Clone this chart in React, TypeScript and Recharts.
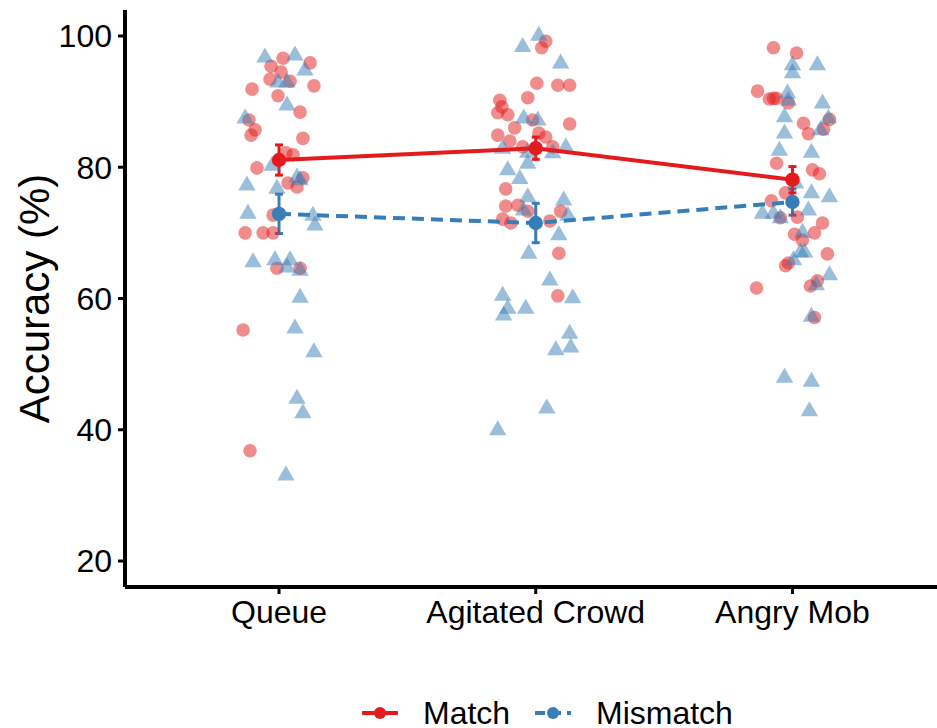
import React from 'react';
import { ScatterChart, Scatter, XAxis, YAxis, ErrorBar } from 'recharts';

const categories = ['Queue', 'Agitated Crowd', 'Angry Mob'];
const yTicks = [20, 40, 60, 80, 100];
const conditions = ['Match', 'Mismatch'];

const matchMeans = [81.1, 82.9, 78.1];
const matchErrors = [2.3, 1.7, 2.0];
const mismatchMeans = [72.9, 71.5, 74.7];
const mismatchErrors = [3.0, 3.0, 2.0];

// Individual participant accuracies (jitter offsets in category units)
const queueMatchValues = [96.6, 95.9, 95.4, 94.5, 93.4, 93.1, 91.9, 92.4, 90.9, 88.4, 87.2, 85.7, 84.9, 84.4, 82.2, 81.9, 79.9, 78.4, 77.6, 77.0, 72.7, 70.0, 70.0, 70.0, 64.6, 64.6, 55.2, 36.8];
const queueMatchJitter = [0.016, 0.121, -0.031, 0.008, -0.035, 0.043, -0.105, 0.136, -0.004, 0.082, -0.117, -0.093, -0.109, 0.093, 0.027, 0.055, -0.086, 0.093, 0.035, 0.07, -0.023, -0.132, -0.062, -0.023, -0.008, 0.082, -0.14, -0.113];

const queueMismatchValues = [96.8, 97.1, 94.8, 93.0, 93.0, 89.5, 87.5, 80.3, 78.5, 78.1, 77.3, 76.8, 73.0, 72.7, 71.2, 65.6, 65.9, 65.9, 64.8, 64.3, 60.2, 55.5, 51.9, 44.8, 42.6, 33.1];
const queueMismatchJitter = [-0.055, 0.062, 0.101, -0.004, 0.031, 0.031, -0.132, -0.027, 0.07, 0.082, -0.125, -0.008, -0.121, 0.132, 0.14, -0.101, -0.016, 0.043, 0.031, 0.082, 0.082, 0.062, 0.136, 0.07, 0.093, 0.027];

const crowdMatchValues = [99.2, 98.2, 92.8, 92.5, 92.5, 90.6, 90.2, 89.2, 88.3, 88.0, 87.2, 86.6, 86.0, 85.2, 84.9, 84.6, 84.0, 83.1, 83.1, 76.7, 74.1, 74.2, 73.3, 73.3, 72.1, 71.5, 71.8, 66.9, 60.4];
const crowdMatchJitter = [0.039, 0.023, 0.004, 0.086, 0.132, -0.031, -0.14, -0.132, -0.148, -0.109, -0.012, 0.132, -0.082, 0.012, -0.148, 0.039, -0.101, -0.051, 0.066, -0.117, -0.117, -0.07, -0.031, 0.097, -0.129, -0.097, 0.055, 0.09, 0.086];

const crowdMismatchValues = [100.1, 98.4, 95.9, 87.5, 87.2, 82.9, 83.1, 82.3, 82.2, 80.6, 79.6, 78.3, 75.5, 75.0, 73.5, 72.7, 69.7, 66.9, 62.8, 60.5, 58.5, 57.5, 58.5, 60.1, 54.7, 52.6, 52.2, 43.3, 40.0];
const crowdMismatchJitter = [0.012, -0.051, 0.097, -0.047, 0.008, -0.129, 0.117, -0.031, 0.066, -0.031, -0.109, -0.062, -0.031, 0.109, -0.047, 0.125, 0.09, -0.027, 0.055, -0.129, -0.109, -0.125, -0.039, 0.144, 0.132, 0.136, 0.078, 0.043, -0.148];

const mobMatchValues = [98.2, 97.4, 91.6, 90.4, 90.5, 90.5, 89.8, 87.3, 86.7, 85.8, 85.1, 80.6, 79.6, 79.0, 76.1, 74.9, 72.3, 72.4, 71.5, 69.8, 70.0, 68.9, 66.8, 65.4, 65.0, 61.6, 62.7, 61.9, 57.1];
const mobMatchJitter = [-0.074, 0.016, -0.136, -0.09, -0.074, -0.062, -0.016, 0.144, 0.043, 0.121, 0.062, -0.062, 0.078, 0.105, -0.027, -0.082, -0.047, 0.019, 0.117, 0.008, 0.086, 0.039, 0.136, -0.016, -0.027, -0.14, 0.097, 0.07, 0.086];

const mobMismatchValues = [95.6, 95.6, 94.4, 91.3, 90.2, 89.8, 87.7, 87.5, 85.2, 85.7, 82.6, 82.3, 77.6, 76.1, 75.5, 73.0, 73.0, 72.3, 73.5, 70.1, 67.1, 67.1, 65.9, 63.6, 62.1, 57.3, 48.0, 47.4, 42.9];
const mobMismatchJitter = [0, 0.097, 0, -0.019, -0.016, 0.117, -0.031, 0.14, -0.031, 0.109, -0.051, 0.074, 0.012, 0.074, 0.144, -0.117, -0.074, -0.047, 0.062, 0.039, 0.031, 0.047, 0.004, 0.144, 0.093, 0.074, -0.031, 0.074, 0.066];

const RED = '#E41A1C';
const BLUE = '#377EB8';
const FONT = '"Liberation Sans", Arial, Helvetica, sans-serif';

function buildPoints(values: number[][], jitters: number[][]) {
  const out: { x: number; y: number }[] = [];
  values.forEach((vals, i) => {
    vals.forEach((v, k) => out.push({ x: i + jitters[i][k], y: v }));
  });
  return out;
}

const matchPoints = buildPoints(
  [queueMatchValues, crowdMatchValues, mobMatchValues],
  [queueMatchJitter, crowdMatchJitter, mobMatchJitter]
);
const mismatchPoints = buildPoints(
  [queueMismatchValues, crowdMismatchValues, mobMismatchValues],
  [queueMismatchJitter, crowdMismatchJitter, mobMismatchJitter]
);
const matchMeanData = matchMeans.map((m, i) => ({ x: i, y: m, err: matchErrors[i] }));
const mismatchMeanData = mismatchMeans.map((m, i) => ({ x: i, y: m, err: mismatchErrors[i] }));

const RedDot = (p: any) => <circle cx={p.cx} cy={p.cy} r={6.8} fill={RED} fillOpacity={0.5} />;
const BlueTri = (p: any) => (
  <polygon
    points={`${p.cx},${p.cy - 9.5} ${p.cx - 8.7},${p.cy + 5.5} ${p.cx + 8.7},${p.cy + 5.5}`}
    fill={BLUE}
    fillOpacity={0.5}
  />
);
const RedMean = (p: any) => <circle cx={p.cx} cy={p.cy} r={7.2} fill={RED} />;
const BlueMean = (p: any) => <circle cx={p.cx} cy={p.cy} r={7.2} fill={BLUE} />;

const YLabel = (p: any) => {
  const vb = p.viewBox || { y: 10, height: 577 };
  const cy = vb.y + vb.height / 2;
  return (
    <text
      x={49}
      y={cy}
      transform={`rotate(-90 49 ${cy})`}
      textAnchor="middle"
      fontSize={42}
      fontFamily={FONT}
      fill="#000"
    >
      Accuracy (%)
    </text>
  );
};

export default function App() {
  return (
    <div style={{ position: 'absolute', left: 0, top: 0, width: 937, height: 728, background: '#fff' }}>
      <ScatterChart width={937} height={728} margin={{ top: 10, right: 0, bottom: 81, left: 0 }}>
        <XAxis
          type="number"
          dataKey="x"
          domain={[-0.6, 2.563]}
          allowDataOverflow
          ticks={[0, 1, 2]}
          interval={0}
          tickFormatter={(v: number) => categories[v] ?? ''}
          height={60}
          axisLine={{ stroke: '#000', strokeWidth: 4 }}
          tickLine={{ stroke: '#000', strokeWidth: 3 }}
          tickSize={7}
          tickMargin={6}
          tick={{ fill: '#000', fontSize: 32, fontFamily: FONT }}
        />
        <YAxis
          type="number"
          dataKey="y"
          domain={[16.04, 103.96]}
          allowDataOverflow
          ticks={yTicks}
          interval={0}
          width={125}
          axisLine={{ stroke: '#000', strokeWidth: 4 }}
          tickLine={{ stroke: '#000', strokeWidth: 3 }}
          tickSize={7}
          tickMargin={6}
          tick={{ fill: '#000', fontSize: 32, fontFamily: FONT }}
          label={{ content: YLabel }}
        />
        <Scatter name="Match points" data={matchPoints} shape={RedDot} isAnimationActive={false} />
        <Scatter name="Mismatch points" data={mismatchPoints} shape={BlueTri} isAnimationActive={false} />
        <Scatter
          name="Mismatch"
          data={mismatchMeanData}
          shape={BlueMean}
          line={{ stroke: BLUE, strokeWidth: 4, strokeDasharray: '12 7' }}
          lineType="joint"
          isAnimationActive={false}
        >
          <ErrorBar dataKey="err" direction="y" width={4} stroke={BLUE} strokeWidth={3} isAnimationActive={false} />
        </Scatter>
        <Scatter
          name="Match"
          data={matchMeanData}
          shape={RedMean}
          line={{ stroke: RED, strokeWidth: 4 }}
          lineType="joint"
          isAnimationActive={false}
        >
          <ErrorBar dataKey="err" direction="y" width={4} stroke={RED} strokeWidth={3} isAnimationActive={false} />
        </Scatter>
      </ScatterChart>
      <svg
        width={937}
        height={728}
        style={{ position: 'absolute', left: 0, top: 0, pointerEvents: 'none' }}
      >
        {conditions.map((c, i) => {
          const x0 = i === 0 ? 362 : 535;
          const col = i === 0 ? RED : BLUE;
          return (
            <g key={c}>
              <line
                x1={x0}
                y1={713}
                x2={x0 + 36}
                y2={713}
                stroke={col}
                strokeWidth={4}
                strokeDasharray={i === 0 ? undefined : '10 6'}
              />
              <circle cx={x0 + 18} cy={713} r={6} fill={col} />
              <text x={x0 + 61} y={724} fontSize={32} fontFamily={FONT} fill="#000">
                {c}
              </text>
            </g>
          );
        })}
      </svg>
    </div>
  );
}
